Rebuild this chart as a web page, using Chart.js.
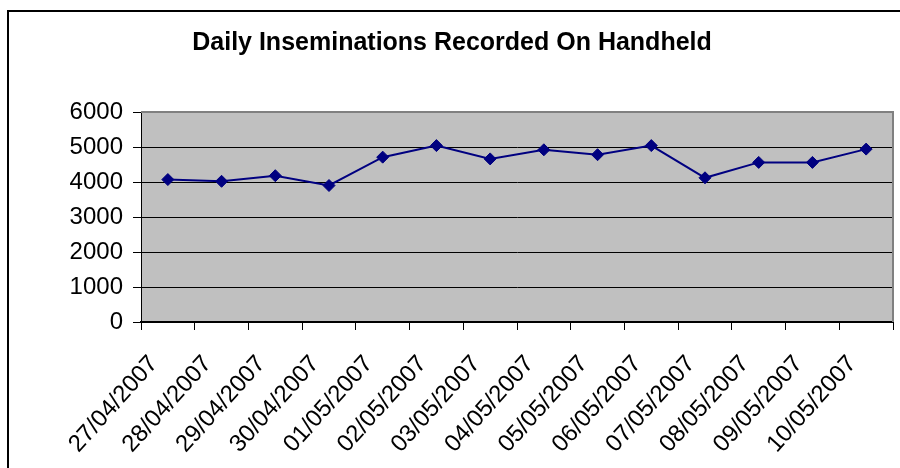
<!DOCTYPE html>
<html>
<head>
<meta charset="utf-8">
<title>Daily Inseminations Recorded On Handheld</title>
<script src="https://cdn.jsdelivr.net/npm/chart.js@4/dist/chart.umd.min.js"></script>
<style>
  html, body { margin: 0; padding: 0; background: #fff; }
  #wrap { width: 900px; height: 468px; position: relative; }
</style>
</head>
<body>
<div id="wrap"><canvas id="chart"></canvas></div>
<script>
// values
const dates = [
  '27/04/2007', '28/04/2007', '29/04/2007', '30/04/2007', '01/05/2007',
  '02/05/2007', '03/05/2007', '04/05/2007', '05/05/2007', '06/05/2007',
  '07/05/2007', '08/05/2007', '09/05/2007', '10/05/2007',
];
const inseminations = [4070, 4020, 4180, 3900, 4710, 5040, 4660, 4920, 4780, 5040, 4120, 4560, 4560, 4940];
const yMin = 0;
const yMax = 6000;
const yStep = 1000;

const FONT = "'Liberation Sans', Arial, sans-serif";
const NAVY = '#000080';

// white page, grey plot area, grey top/right plot edge, black outer frame
const excelLook = {
  id: 'excelLook',
  beforeDraw(chart) {
    const { ctx, chartArea: a } = chart;
    ctx.save();
    ctx.fillStyle = '#fff';
    ctx.fillRect(0, 0, chart.width, chart.height);
    ctx.fillStyle = '#c0c0c0';
    ctx.fillRect(a.left, a.top, a.right - a.left, a.bottom - a.top);
    ctx.restore();
  },
  beforeDatasetsDraw(chart) {
    const { ctx, chartArea: a } = chart;
    ctx.save();
    ctx.strokeStyle = '#808080';
    ctx.lineWidth = 2;
    ctx.beginPath();
    ctx.moveTo(a.left, a.top);
    ctx.lineTo(a.right, a.top);
    ctx.lineTo(a.right, a.bottom);
    ctx.stroke();
    ctx.restore();
  },
  afterDraw(chart) {
    const { ctx } = chart;
    ctx.save();
    ctx.strokeStyle = '#000';
    ctx.lineWidth = 2;
    ctx.strokeRect(8, 11, chart.width + 20, chart.height + 20);
    ctx.restore();
  },
};

new Chart(document.getElementById('chart'), {
  type: 'line',
  data: {
    labels: dates,
    datasets: [{
      data: inseminations,
      borderColor: NAVY,
      backgroundColor: NAVY,
      borderWidth: 2,
      tension: 0,
      pointStyle: 'rectRot',
      pointRadius: 6,
      pointBackgroundColor: NAVY,
      pointBorderColor: NAVY,
      pointBorderWidth: 1,
    }],
  },
  options: {
    responsive: true,
    maintainAspectRatio: false,
    animation: false,
    layout: { padding: { left: 10, right: 6, top: 0, bottom: 0 } },
    plugins: {
      legend: { display: false },
      tooltip: { enabled: false },
      title: {
        display: true,
        text: 'Daily Inseminations Recorded On Handheld',
        color: '#000',
        font: { family: FONT, size: 25, weight: 'bold' },
        padding: { top: 28, bottom: 54 },
      },
    },
    scales: {
      x: {
        offset: true,
        grid: { drawOnChartArea: false, offset: true, tickLength: 8, color: '#000' },
        border: { color: '#000', width: 2 },
        ticks: {
          autoSkip: false, minRotation: 48, maxRotation: 48,
          color: '#000', padding: 20, labelOffset: -14,
          font: { family: FONT, size: 24 },
        },
        afterFit(s) {
          s.height = 146;
          s.paddingLeft = 0;
          s.paddingRight = 0;
        },
      },
      y: {
        min: yMin,
        max: yMax,
        grid: { color: '#000', tickLength: 8, tickColor: '#000' },
        border: { color: '#000', width: 1 },
        ticks: {
          stepSize: yStep,
          color: '#000', padding: 10,
          font: { family: FONT, size: 24 },
          callback: (v) => String(v),
        },
        afterFit(s) {
          s.width = 131;
          s.paddingTop = 0;
          s.paddingBottom = 0;
        },
      },
    },
  },
  plugins: [excelLook],
});
</script>
</body>
</html>
